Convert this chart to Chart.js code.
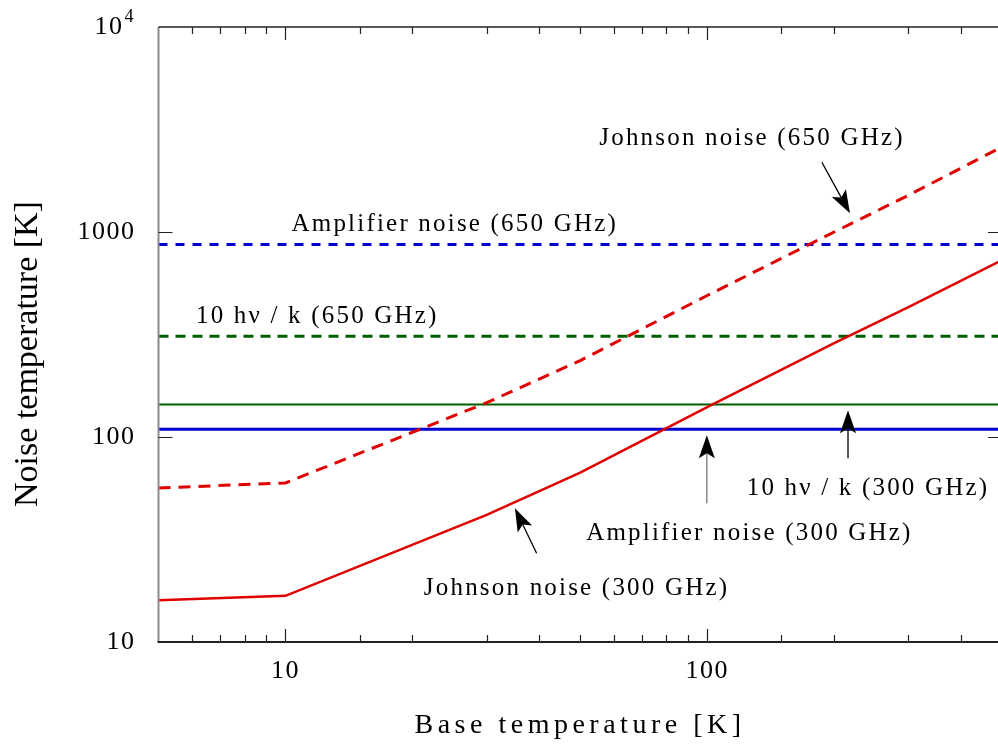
<!DOCTYPE html>
<html>
<head>
<meta charset="utf-8">
<script src="https://cdn.jsdelivr.net/npm/chart.js@4.4.0/dist/chart.umd.min.js"></script>
<style>
  html, body { margin: 0; padding: 0; overflow: hidden; background: #fff; }
</style>
</head>
<body>
<canvas id="noiseChart" width="1002" height="751" style="width:1002px;height:751px"></canvas>
<script>
// base temperature [K] where the Johnson curves were sampled
const baseTemps = [5, 10, 30, 50, 100, 200, 300, 500];
const johnson300 = [16.0, 16.8, 41.7, 67, 140, 287, 430, 730];
const johnson650 = [56.4, 59.7, 147, 236, 490, 1000, 1510, 2600];

// flat reference levels, drawn across the whole range
const flatTemps = [5, 500];
const amp300 = [109, 109];
const hv300 = [144, 144];
const hv650 = [310, 310];
const amp650 = [870, 870];

const xTickLabels = [10, 100];
const yTickLabels = [10, 100, 1000];

// annotation texts (centre in data units) and arrows (from -> to, data units)
const notes = [
  { text: 'Johnson noise (650 GHz)', x: 127.7, y: 2864 },
  { text: 'Amplifier noise (650 GHz)', x: 25.2, y: 1091 },
  { text: '10 h\u03bd / k (650 GHz)', x: 11.9, y: 388 },
  { text: '10 h\u03bd / k (300 GHz)', x: 240.6, y: 56.2 },
  { text: 'Amplifier noise (300 GHz)', x: 125.9, y: 33.9 },
  { text: 'Johnson noise (300 GHz)', x: 49, y: 18.3 }
];
const arrows = [
  { x0: 187, y0: 2188, x1: 218, y1: 1233, color: '#000' },
  { x0: 215.7, y0: 78.7, x1: 215.7, y1: 134.9, color: '#000' },
  { x0: 99.8, y0: 47.5, x1: 99.8, y1: 101.9, color: '#777' },
  { x0: 39.4, y0: 27.1, x1: 35, y1: 44.9, color: '#000' }
];

const FONT = "'Liberation Serif', 'Times New Roman', serif";
const RED = '#e00000';
const BLUE = '#0000d0';
const GREEN = '#006000';

const isPow10 = v => Math.abs(Math.log10(v) - Math.round(Math.log10(v))) < 1e-9;
const pts = (xs, ys) => xs.map((t, i) => ({ x: t, y: ys[i] }));

const drawArrow = (ctx, x0, y0, x1, y1, color) => {
  const ang = Math.atan2(y1 - y0, x1 - x0);
  const L = 23, W = 8, N = 18;
  ctx.strokeStyle = color;
  ctx.lineWidth = 1.3;
  ctx.beginPath();
  ctx.moveTo(x0, y0);
  ctx.lineTo(x1 - N * Math.cos(ang), y1 - N * Math.sin(ang));
  ctx.stroke();
  ctx.save();
  ctx.translate(x1, y1);
  ctx.rotate(ang);
  ctx.fillStyle = '#000';
  ctx.beginPath();
  ctx.moveTo(0, 0);
  ctx.lineTo(-L, W);
  ctx.lineTo(-N, 0);
  ctx.lineTo(-L, -W);
  ctx.closePath();
  ctx.fill();
  ctx.restore();
};

const decorPlugin = {
  id: 'decor',
  beforeDraw(chart) {
    chart.ctx.letterSpacing = '1.5px';
  },
  afterDraw(chart) {
    const { ctx, chartArea: a, scales: { x, y } } = chart;
    ctx.save();
    ctx.setLineDash([]);

    // frame
    ctx.lineWidth = 2;
    ctx.strokeStyle = '#8a8a8a';
    ctx.beginPath(); ctx.moveTo(a.left, a.top); ctx.lineTo(a.left, a.bottom); ctx.stroke();
    ctx.strokeStyle = '#222';
    ctx.beginPath(); ctx.moveTo(a.left - 1, a.bottom); ctx.lineTo(a.right, a.bottom); ctx.stroke();
    ctx.lineWidth = 1.5;
    ctx.beginPath(); ctx.moveTo(a.left, a.top); ctx.lineTo(a.right, a.top); ctx.stroke();
    ctx.beginPath(); ctx.moveTo(a.right, a.top); ctx.lineTo(a.right, a.bottom); ctx.stroke();

    // inward ticks
    ctx.lineWidth = 1.2;
    ctx.strokeStyle = '#222';
    x.ticks.forEach(t => {
      if (t.value <= x.min || t.value >= x.max) return;
      const px = Math.round(x.getPixelForValue(t.value)) + 0.5;
      const len = isPow10(t.value) ? 13 : 7;
      ctx.beginPath();
      ctx.moveTo(px, a.bottom); ctx.lineTo(px, a.bottom - len);
      ctx.moveTo(px, a.top); ctx.lineTo(px, a.top + len);
      ctx.stroke();
    });
    y.ticks.forEach(t => {
      if (!isPow10(t.value) || t.value <= y.min || t.value >= y.max) return;
      const py = Math.round(y.getPixelForValue(t.value)) + 0.5;
      ctx.beginPath();
      ctx.moveTo(a.left, py); ctx.lineTo(a.left + 14, py);
      ctx.moveTo(a.right, py); ctx.lineTo(a.right - 14, py);
      ctx.stroke();
    });

    // 10^4 label
    const topY = y.getPixelForValue(10000);
    ctx.fillStyle = '#000';
    ctx.letterSpacing = '1.5px';
    ctx.textAlign = 'right';
    ctx.textBaseline = 'middle';
    ctx.font = `26px ${FONT}`;
    ctx.fillText('10', a.left - 35, topY);
    ctx.textAlign = 'left';
    ctx.font = `18px ${FONT}`;
    ctx.fillText('4', a.left - 34, topY - 10);

    // annotations
    ctx.font = `25px ${FONT}`;
    ctx.letterSpacing = '2.2px';
    ctx.textAlign = 'center';
    ctx.textBaseline = 'middle';
    notes.forEach(n => {
      ctx.fillText(n.text, x.getPixelForValue(n.x), y.getPixelForValue(n.y));
    });
    arrows.forEach(r => {
      drawArrow(ctx,
        x.getPixelForValue(r.x0), y.getPixelForValue(r.y0),
        x.getPixelForValue(r.x1), y.getPixelForValue(r.y1), r.color);
    });

    // axis titles
    ctx.fillStyle = '#000';
    ctx.font = `28px ${FONT}`;
    ctx.letterSpacing = '4.5px';
    ctx.textAlign = 'center';
    ctx.textBaseline = 'alphabetic';
    ctx.fillText('Base temperature [K]', 580, 733);

    ctx.save();
    ctx.font = `34px ${FONT}`;
    ctx.letterSpacing = '0px';
    ctx.translate(37, 354);
    ctx.rotate(-Math.PI / 2);
    ctx.fillText('Noise temperature [K]', 0, 0);
    ctx.restore();

    ctx.restore();
  }
};

const lineSet = (label, data, color, width, dash) => ({
  label: label,
  data: data,
  borderColor: color,
  borderWidth: width,
  borderDash: dash,
  pointRadius: 0,
  fill: false,
  tension: 0
});

new Chart(document.getElementById('noiseChart'), {
  type: 'line',
  data: {
    datasets: [
      lineSet('Johnson noise (300 GHz)', pts(baseTemps, johnson300), RED, 2.5, []),
      lineSet('Johnson noise (650 GHz)', pts(baseTemps, johnson650), RED, 3, [12, 8]),
      lineSet('Amplifier noise (300 GHz)', pts(flatTemps, amp300), BLUE, 3, []),
      lineSet('10 hν / k (300 GHz)', pts(flatTemps, hv300), GREEN, 2, []),
      lineSet('10 hν / k (650 GHz)', pts(flatTemps, hv650), GREEN, 3, [10, 7]),
      lineSet('Amplifier noise (650 GHz)', pts(flatTemps, amp650), BLUE, 3, [9, 8])
    ]
  },
  options: {
    responsive: false,
    animation: false,
    devicePixelRatio: 1,
    layout: { padding: { top: 27, right: 0, bottom: 0, left: 0 } },
    plugins: {
      legend: { display: false },
      tooltip: { enabled: false }
    },
    scales: {
      x: {
        type: 'logarithmic',
        min: 5,
        max: 500,
        grid: { display: false, drawTicks: false },
        border: { display: false },
        ticks: {
          autoSkip: false,
          maxRotation: 0,
          padding: 14,
          color: '#000',
          font: { family: FONT, size: 26 },
          callback: v => xTickLabels.some(t => Math.abs(t - v) < 1e-6) ? String(v) : ''
        },
        afterFit: s => {
          s.height = 109;
          s.paddingLeft = 0;
          s.paddingRight = 0;
        }
      },
      y: {
        type: 'logarithmic',
        min: 10,
        max: 10000,
        grid: { display: false, drawTicks: false },
        border: { display: false },
        ticks: {
          autoSkip: false,
          padding: 23,
          color: '#000',
          font: { family: FONT, size: 26 },
          callback: v => yTickLabels.some(t => Math.abs(t - v) < 1e-6) ? String(v) : ''
        },
        afterFit: s => {
          s.width = 158.5;
          s.paddingTop = 0;
          s.paddingBottom = 0;
        }
      }
    }
  },
  plugins: [decorPlugin]
});
</script>
</body>
</html>
